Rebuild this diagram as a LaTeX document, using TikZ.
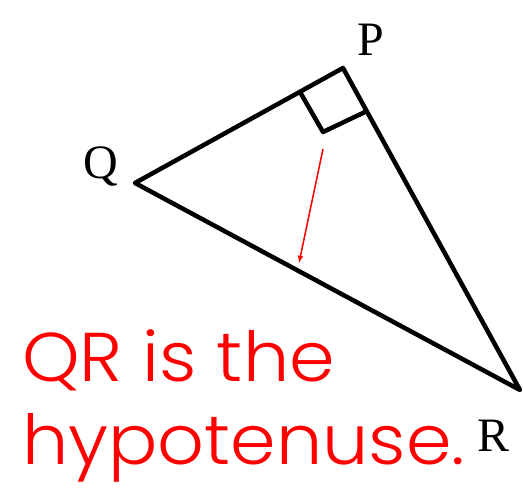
\documentclass[tikz,border=0pt]{standalone}
\usepackage{fontspec}
\setmainfont{Liberation Serif}
\newfontfamily\notefont{Poppins Light}[FakeStretch=1.06]
\usepackage{tikz}

\begin{document}
\begin{tikzpicture}[x=1pt, y=-1pt, line join=round,
    vertex/.style={font=\fontsize{48}{48}\selectfont, inner sep=0pt},
    note/.style={font=\notefont\fontsize{69}{88}\selectfont, text=red, inner sep=0pt}]
    \useasboundingbox (0,0) rectangle (523,489);
    % Vertices
    \coordinate (Q) at (135,183);
    \coordinate (P) at (343,68);
    \coordinate (R) at (520,390);
    \node[vertex] (Plabel) at (371,40) {P};
    \node[vertex] (Qlabel) at (101,167) {Q};
    \node[vertex] (Rlabel) at (494,436) {R};

    % Triangle and right angle mark
    \draw[line width=4.5pt] (Q) -- (P) -- (R) -- cycle;
    \coordinate (sq1) at (300,92);
    \coordinate (sq2) at (323,132);
    \coordinate (sq3) at (365,112);
    \draw[line width=4.5pt] (sq1) -- (sq2) -- (sq3);

    % Pointer to the hypotenuse
    \coordinate (from) at (323,149);
    \coordinate (to) at (299,263);
    \draw[->, red, line width=1.5pt, >=latex] (from) -- (to);

    \node[note, anchor=base west] (line1) at (22,382) {QR is the};
    \node[note, anchor=base west] (line2) at (22,465) {hypotenuse.};
\end{tikzpicture}
\end{document}
